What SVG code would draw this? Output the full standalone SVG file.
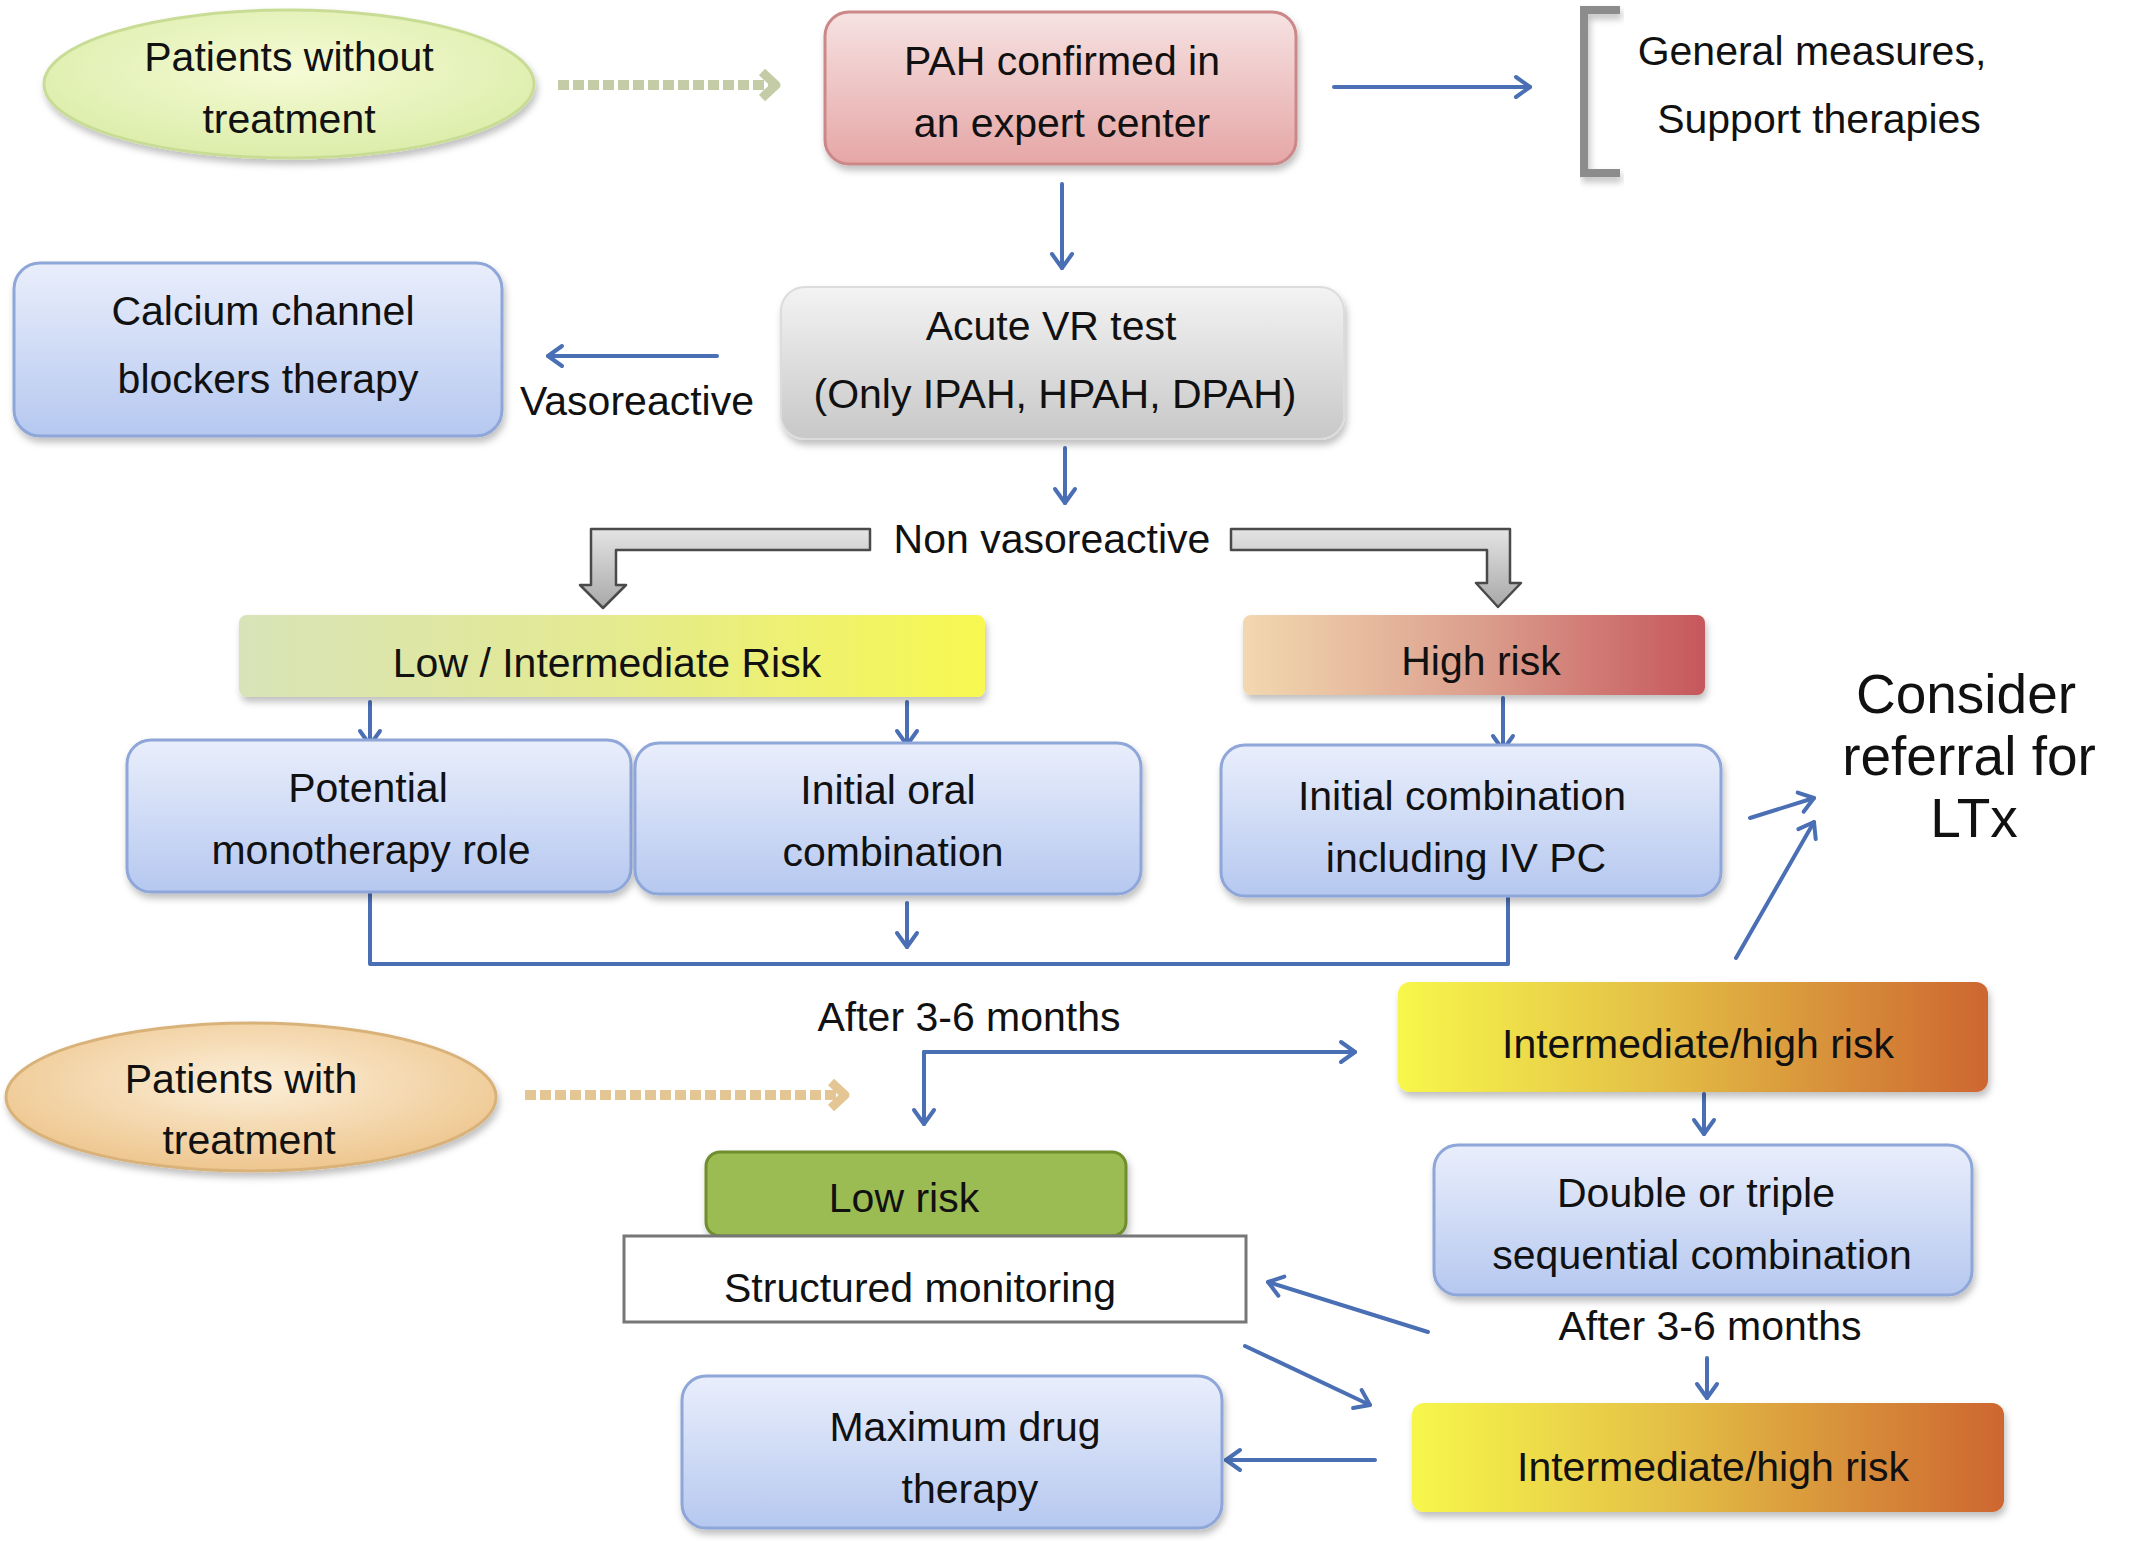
<svg xmlns="http://www.w3.org/2000/svg" width="2131" height="1541" viewBox="0 0 2131 1541">
<defs>
<style>
text{font-family:"Liberation Sans",Arial,Helvetica,sans-serif;font-size:41px;fill:#111;text-anchor:middle}
.big{font-size:55px}
.conn{fill:none;stroke:#4a6fb5;stroke-width:4;stroke-linecap:round;stroke-linejoin:round}
.arr{marker-end:url(#ah)}
.blue{fill:url(#gBlue);stroke:#8ea6d8;stroke-width:3}
</style>
<filter id="sh" x="-10%" y="-10%" width="120%" height="130%">
<feDropShadow dx="2" dy="5" stdDeviation="3.5" flood-color="#000" flood-opacity="0.25"/>
</filter>
<marker id="ah" markerUnits="userSpaceOnUse" markerWidth="26" markerHeight="26" viewBox="0 0 26 26" refX="23" refY="13" orient="auto">
<path d="M9,3 L23,13 L9,23" fill="none" stroke="#4a6fb5" stroke-width="4" stroke-linecap="round" stroke-linejoin="round"/>
</marker>
<marker id="ahG" markerUnits="userSpaceOnUse" markerWidth="30" markerHeight="34" viewBox="0 0 30 34" refX="24" refY="17" orient="auto">
<path d="M10,4 L24,17 L10,30" fill="none" stroke="#c3cca6" stroke-width="9" stroke-linejoin="round"/>
</marker>
<marker id="ahP" markerUnits="userSpaceOnUse" markerWidth="30" markerHeight="34" viewBox="0 0 30 34" refX="24" refY="17" orient="auto">
<path d="M10,4 L24,17 L10,30" fill="none" stroke="#e3c693" stroke-width="9" stroke-linejoin="round"/>
</marker>
<linearGradient id="gBlue" x1="0" y1="0" x2="0" y2="1"><stop offset="0" stop-color="#e9eefb"/><stop offset="1" stop-color="#b6c8f0"/></linearGradient>
<linearGradient id="gPink" x1="0" y1="0" x2="0" y2="1"><stop offset="0" stop-color="#f6e2e2"/><stop offset="1" stop-color="#e6a6a6"/></linearGradient>
<linearGradient id="gGray" x1="0" y1="0" x2="0" y2="1"><stop offset="0" stop-color="#f3f3f3"/><stop offset="1" stop-color="#c8c8c8"/></linearGradient>
<radialGradient id="gEllG" cx="0.5" cy="0.4" r="0.6"><stop offset="0" stop-color="#f6fbd6"/><stop offset="1" stop-color="#dcedaa"/></radialGradient>
<radialGradient id="gEllP" cx="0.5" cy="0.4" r="0.6"><stop offset="0" stop-color="#fcefd9"/><stop offset="1" stop-color="#eec68e"/></radialGradient>
<linearGradient id="gLowInt" x1="0" y1="0" x2="1" y2="0"><stop offset="0" stop-color="#d8e3b8"/><stop offset="0.5" stop-color="#e4ea90"/><stop offset="1" stop-color="#f8f850"/></linearGradient>
<linearGradient id="gHigh" x1="0" y1="0" x2="1" y2="0"><stop offset="0" stop-color="#f2d8b0"/><stop offset="0.5" stop-color="#dca08e"/><stop offset="1" stop-color="#c6575c"/></linearGradient>
<linearGradient id="gIH" x1="0" y1="0" x2="1" y2="0"><stop offset="0" stop-color="#f7f74c"/><stop offset="0.45" stop-color="#e3bd45"/><stop offset="1" stop-color="#cd6630"/></linearGradient>
<linearGradient id="gBlock" x1="0" y1="0" x2="0" y2="1"><stop offset="0" stop-color="#e4e4e4"/><stop offset="1" stop-color="#a8a8a8"/></linearGradient>
</defs>
<rect width="2131" height="1541" fill="#fff"/>

<g id="connectors">
<path class="conn arr" d="M1334 87 H1530"/>
<path class="conn arr" d="M1062 184 V268"/>
<path class="conn arr" d="M717 356 H548"/>
<path class="conn arr" d="M1065 448 V503"/>
<path class="conn arr" d="M370 702 V745"/>
<path class="conn arr" d="M907 702 V745"/>
<path class="conn arr" d="M1503 698 V750"/>
<path class="conn" d="M370 893 V964 H1508 V895"/>
<path class="conn arr" d="M907 903 V947"/>
<path class="conn arr" d="M1750 818 L1814 798"/>
<path class="conn arr" d="M1736 958 L1814 822"/>
<path class="conn arr" d="M924 1052 H1355"/>
<path class="conn arr" d="M924 1052 V1124"/>
<path class="conn arr" d="M1704 1094 V1134"/>
<path class="conn arr" d="M1428 1332 L1268 1282"/>
<path class="conn arr" d="M1245 1346 L1370 1405"/>
<path class="conn arr" d="M1707 1358 V1398"/>
<path class="conn arr" d="M1375 1460 H1226"/>
<path d="M558 85 H776" fill="none" stroke="#c3cca6" stroke-width="10" stroke-dasharray="11 4" marker-end="url(#ahG)"/>
<path d="M525 1095 H845" fill="none" stroke="#e3c693" stroke-width="10" stroke-dasharray="11 4" marker-end="url(#ahP)"/>
<path d="M1620 10 H1584 V173 H1620" fill="none" stroke="#8c8c8c" stroke-width="8" filter="url(#sh)"/>
<polygon points="870,529 591,529 591,585 580,585 603,608 626,585 616,585 616,550 870,550" fill="url(#gBlock)" stroke="#4a4a4a" stroke-width="2.5" stroke-linejoin="round"/>
<polygon points="1231,529 1510,529 1510,583 1521,583 1498,607 1476,583 1487,583 1487,550 1231,550" fill="url(#gBlock)" stroke="#4a4a4a" stroke-width="2.5" stroke-linejoin="round"/>
</g>

<g id="patients-without">
<ellipse cx="289" cy="84" rx="245" ry="74" fill="url(#gEllG)" stroke="#c9dc96" stroke-width="3" filter="url(#sh)"/>
<text x="289" y="71">Patients without</text>
<text x="289" y="133">treatment</text>
</g>
<g id="pah">
<rect x="825" y="12" width="471" height="152" rx="24" fill="url(#gPink)" stroke="#cc8888" stroke-width="3" filter="url(#sh)"/>
<text x="1062" y="75">PAH confirmed in</text>
<text x="1062" y="137">an expert center</text>
</g>
<g id="general">
<text x="1812" y="65">General measures,</text>
<text x="1819" y="133">Support therapies</text>
</g>
<g id="acute">
<rect x="781" y="287" width="563" height="152" rx="24" fill="url(#gGray)" stroke="#dcdcdc" stroke-width="2" filter="url(#sh)"/>
<text x="1051" y="340">Acute VR test</text>
<text x="1055" y="408">(Only IPAH, HPAH, DPAH)</text>
</g>
<g id="calcium">
<rect x="14" y="263" width="488" height="173" rx="26" class="blue" filter="url(#sh)"/>
<text x="263" y="325">Calcium channel</text>
<text x="268" y="393">blockers therapy</text>
</g>
<g id="vasoreactive"><text x="637" y="415">Vasoreactive</text></g>
<g id="nonvaso"><text x="1052" y="553">Non vasoreactive</text></g>
<g id="lowint">
<rect x="239" y="615" width="746" height="82" rx="8" fill="url(#gLowInt)" filter="url(#sh)"/>
<text x="607" y="677">Low / Intermediate Risk</text>
</g>
<g id="highrisk">
<rect x="1243" y="615" width="462" height="80" rx="8" fill="url(#gHigh)" filter="url(#sh)"/>
<text x="1481" y="675">High risk</text>
</g>
<g id="potential">
<rect x="127" y="740" width="504" height="152" rx="24" class="blue" filter="url(#sh)"/>
<text x="368" y="802">Potential</text>
<text x="371" y="864">monotherapy role</text>
</g>
<g id="oral">
<rect x="635" y="743" width="506" height="151" rx="24" class="blue" filter="url(#sh)"/>
<text x="888" y="804">Initial oral</text>
<text x="893" y="866">combination</text>
</g>
<g id="ivpc">
<rect x="1221" y="745" width="500" height="151" rx="24" class="blue" filter="url(#sh)"/>
<text x="1462" y="810">Initial combination</text>
<text x="1466" y="872">including IV PC</text>
</g>
<g id="ltx">
<text class="big" x="1966" y="713">Consider</text>
<text class="big" x="1969" y="775">referral for</text>
<text class="big" x="1974" y="837">LTx</text>
</g>
<g id="after1"><text x="969" y="1031">After 3-6 months</text></g>
<g id="patients-with">
<ellipse cx="251" cy="1097" rx="245" ry="74" fill="url(#gEllP)" stroke="#d9b27a" stroke-width="3" filter="url(#sh)"/>
<text x="241" y="1093">Patients with</text>
<text x="249" y="1154">treatment</text>
</g>
<g id="ih1">
<rect x="1398" y="982" width="590" height="110" rx="12" fill="url(#gIH)" filter="url(#sh)"/>
<text x="1698" y="1058">Intermediate/high risk</text>
</g>
<g id="double">
<rect x="1434" y="1145" width="538" height="150" rx="24" class="blue" filter="url(#sh)"/>
<text x="1696" y="1207">Double or triple</text>
<text x="1702" y="1269">sequential combination</text>
</g>
<g id="after2"><text x="1710" y="1340">After 3-6 months</text></g>
<g id="lowrisk">
<rect x="706" y="1152" width="420" height="84" rx="14" fill="#9bbb53" stroke="#6f8e2f" stroke-width="3" filter="url(#sh)"/>
<text x="904" y="1212">Low risk</text>
</g>
<g id="monitoring">
<rect x="624" y="1236" width="622" height="86" fill="#fff" stroke="#777" stroke-width="3"/>
<text x="920" y="1302">Structured monitoring</text>
</g>
<g id="ih2">
<rect x="1412" y="1403" width="592" height="109" rx="12" fill="url(#gIH)" filter="url(#sh)"/>
<text x="1713" y="1481">Intermediate/high risk</text>
</g>
<g id="maxdrug">
<rect x="682" y="1376" width="540" height="152" rx="24" class="blue" filter="url(#sh)"/>
<text x="965" y="1441">Maximum drug</text>
<text x="970" y="1503">therapy</text>
</g>
</svg>
